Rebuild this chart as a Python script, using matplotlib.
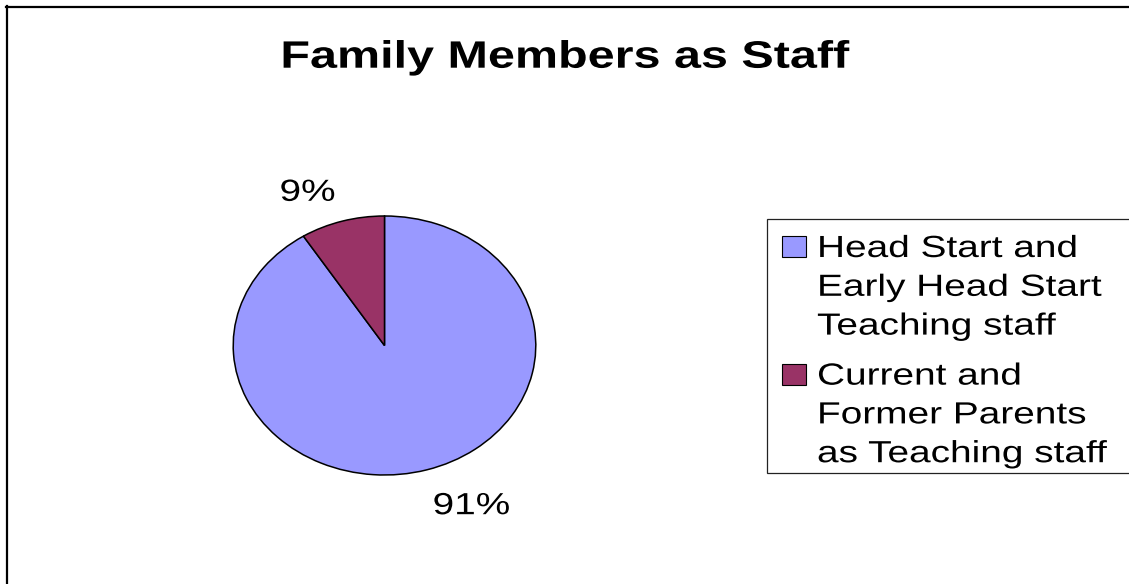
import matplotlib
matplotlib.use("Agg")
import matplotlib.pyplot as plt
import matplotlib.patheffects as pe
from matplotlib.transforms import Affine2D, offset_copy
from matplotlib.patches import Rectangle
from matplotlib.lines import Line2D
import numpy as np

# ---- data ----
title = "Family Members as Staff"
categories = ["Head Start and\nEarly Head Start\nTeaching staff",
              "Current and\nFormer Parents\nas Teaching staff"]
values = [91, 9]
colors = ["#9999FF", "#993366"]

W, H = 1129, 584
plt.rcParams['font.family'] = ['Liberation Sans', 'DejaVu Sans']


class Stretch(pe.AbstractPathEffect):
    """Horizontal stretch of text glyphs (the reference is stretched sideways)."""
    def __init__(self, sx, mode="left"):
        super().__init__()
        self.sx = sx
        self.mode = mode

    def draw_path(self, renderer, gc, tpath, affine, rgbFace=None):
        if self.mode == "center":
            ext = tpath.get_extents()
            ox, oy = affine.transform(((ext.x0 + ext.x1) / 2, 0))
        else:
            ox, oy = affine.transform((0, 0))
        aff = affine + Affine2D().translate(-ox, -oy).scale(self.sx, 1).translate(ox, oy)
        renderer.draw_path(gc, tpath, aff, rgbFace)


SX = 1.27

fig = plt.figure(figsize=(W / 100, H / 100), dpi=100)
fig.patch.set_facecolor("white")


def fx(px):
    return px / W


def fy(py):
    return 1 - py / H


# outer frame (left and top edges visible)
fig.add_artist(Line2D([fx(7), fx(7)], [fy(6), 0], color="black", lw=1.6, transform=fig.transFigure))
fig.add_artist(Line2D([fx(6), 1], [fy(6.5), fy(6.5)], color="black", lw=1.6, transform=fig.transFigure))

# title
t = fig.text(fx(565.5), fy(67.7), title, ha="center", va="baseline",
             fontsize=27.5, fontweight="bold", color="black")
t.set_path_effects([Stretch(SX, "center")])

# pie (elliptical, as in the reference)
cx, cy, rx, ry = 384.5, 345.5, 151.3, 129.5
ax = fig.add_axes([fx(cx - rx), fy(cy + ry), 2 * rx / W, 2 * ry / H])
wedges, _, autotexts = ax.pie(values, colors=colors, startangle=90, counterclock=False,
                              autopct=lambda p: f"{p:.0f}%",
                              wedgeprops=dict(edgecolor="black", linewidth=1.1))
ax.set_aspect("auto")
ax.set_xlim(-1, 1)
ax.set_ylim(-1, 1)
ax.axis("off")

lab_trans = offset_copy(ax.transData, fig=fig, x=5, y=-12, units="dots")
R, D = 1.26, 0.19
for w, at in zip(wedges, autotexts):
    th = np.deg2rad((w.theta1 + w.theta2) / 2)
    x = R * np.cos(th) + D * np.sign(np.cos(th))
    y = R * np.sin(th)
    at.set_position((x, y))
    at.set_transform(lab_trans)
    at.set_ha("center")
    at.set_va("baseline")
    at.set_fontsize(22)
    at.set_color("black")
    at.set_clip_on(False)
    at.set_path_effects([Stretch(SX, "center")])

# legend (drawn by hand: handle aligned with first line of each label)
fig.add_artist(Rectangle((fx(767), fy(473)), fx(1140) - fx(767), fy(219) - fy(473),
                         transform=fig.transFigure, facecolor="white",
                         edgecolor="#222222", lw=0.9, zorder=0))
base = 257.0
pitch = 38.8
gap = 50.0
for lab, col in zip(categories, colors):
    fig.add_artist(Rectangle((fx(782), fy(base)), fx(806) - fx(782), fy(base - 21) - fy(base),
                             transform=fig.transFigure, facecolor=col,
                             edgecolor="black", lw=0.8))
    lines = lab.split("\n")
    for i, ln in enumerate(lines):
        tt = fig.text(fx(817), fy(base + i * pitch), ln, ha="left", va="baseline",
                      fontsize=22, color="black")
        tt.set_path_effects([Stretch(SX, "left")])
    base += (len(lines) - 1) * pitch + gap

fig.savefig("out.png", dpi=100, facecolor="white")
